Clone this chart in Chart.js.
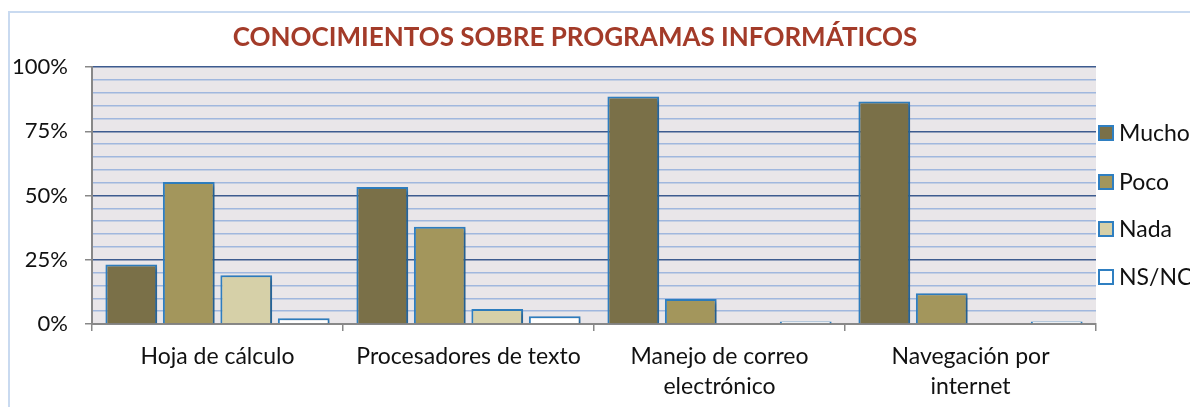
<!DOCTYPE html>
<html>
<head>
<meta charset="utf-8">
<script src="https://cdn.jsdelivr.net/npm/chart.js@4"></script>
<style>
html,body{margin:0;padding:0;background:#fff;}
#wrap{position:relative;width:1190px;height:407px;}
</style>
</head>
<body>
<div id="wrap"><canvas id="c" width="1190" height="407"></canvas></div>
<script>
const title = 'CONOCIMIENTOS SOBRE PROGRAMAS INFORMÁTICOS';
const categories = ['Hoja de cálculo', 'Procesadores de texto', ['Manejo de correo', 'electrónico'], ['Navegación por', 'internet']];
const seriesNames = ['Mucho', 'Poco', 'Nada', 'NS/NC'];
const mucho = [23.2, 53.3, 88.5, 86.6];
const poco = [55.3, 37.8, 9.7, 12.0];
const nada = [19.0, 5.8, 0.3, 0.3];
const nsnc = [2.2, 3.0, 1.0, 1.0];
const yTicks = [0, 25, 50, 75, 100];

const fills = ['#7a7048', '#a3965c', '#d6d0a8', '#ffffff'];
const border = '#2f7fc1';
const FONT = 'Lato';

const bgPlugin = {
  id: 'bg',
  beforeDraw(chart) {
    const ctx = chart.ctx, a = chart.chartArea;
    ctx.save();
    ctx.fillStyle = '#ffffff';
    ctx.fillRect(0, 0, chart.width, chart.height);
    ctx.strokeStyle = '#c9daf0';
    ctx.lineWidth = 2;
    ctx.beginPath();
    ctx.moveTo(9, chart.height);
    ctx.lineTo(9, 12);
    ctx.lineTo(chart.width, 12);
    ctx.stroke();
    ctx.fillStyle = '#e9e6e9';
    ctx.fillRect(a.left, a.top, a.right - a.left, a.bottom - a.top);
    ctx.restore();
  },
  beforeDatasetsDraw(chart) {
    const ctx = chart.ctx;
    ctx.save();
    ctx.shadowColor = 'rgba(0,0,0,0.28)';
    ctx.shadowBlur = 4;
    ctx.shadowOffsetX = 3;
    ctx.shadowOffsetY = 2;
  },
  afterDatasetsDraw(chart) {
    chart.ctx.restore();
  },
  afterDraw(chart) {
    const ctx = chart.ctx;
    ctx.save();
    ctx.font = 'bold 26px ' + FONT;
    ctx.fillStyle = '#a33b29';
    ctx.textAlign = 'center';
    ctx.textBaseline = 'middle';
    ctx.fillText(title, 575, 38);
    ctx.font = '23px ' + FONT;
    ctx.textAlign = 'left';
    const ys = [133, 182, 229, 277];
    seriesNames.forEach((n, i) => {
      ctx.fillStyle = fills[i];
      ctx.fillRect(1099, ys[i] - 7, 14, 14);
      ctx.strokeStyle = border;
      ctx.lineWidth = 2;
      ctx.strokeRect(1099, ys[i] - 7, 14, 14);
      ctx.fillStyle = '#111';
      ctx.fillText(n, 1119, ys[i] + 1);
    });
    ctx.restore();
  }
};

const ds = (label, data, i) => ({
  label, data,
  backgroundColor: fills[i],
  borderColor: border,
  borderWidth: 2,
  categoryPercentage: 0.916,
  barPercentage: 0.9
});

new Chart(document.getElementById('c'), {
  type: 'bar',
  data: {
    labels: categories,
    datasets: [ds(seriesNames[0], mucho, 0), ds(seriesNames[1], poco, 1), ds(seriesNames[2], nada, 2), ds(seriesNames[3], nsnc, 3)]
  },
  options: {
    responsive: false,
    animation: false,
    devicePixelRatio: 1,
    layout: { padding: { top: 67, right: 94, bottom: 0, left: 0 } },
    plugins: { legend: { display: false }, title: { display: false }, tooltip: { enabled: false } },
    scales: {
      x: {
        offset: true,
        afterFit(s) { s.height = 83; },
        grid: { offset: true, drawOnChartArea: false, drawTicks: true, tickLength: 7, color: '#888888', lineWidth: 1.5 },
        border: { display: true, color: '#888888', width: 2 },
        ticks: { color: '#111', font: { family: FONT, size: 23, lineHeight: 1.3 }, padding: 11, maxRotation: 0, autoSkip: false }
      },
      y: {
        min: 0, max: 100,
        afterFit(s) { s.width = 92; },
        afterBuildTicks(s) {
          s.ticks = [];
          for (let v = 0; v <= 100; v += 5) s.ticks.push({ value: v });
        },
        grid: {
          color: c => (c.tick && c.tick.value % 25 === 0) ? '#3d5b8f' : '#a0b7de',
          lineWidth: 1.5,
          tickColor: c => (c.tick && yTicks.includes(c.tick.value)) ? '#888888' : 'rgba(0,0,0,0)',
          tickLength: 7
        },
        border: { display: true, color: '#888888', width: 2 },
        ticks: {
          autoSkip: false,
          padding: 17,
          color: '#111',
          font: { family: FONT, size: 22 },
          callback: v => yTicks.includes(v) ? v + '%' : ''
        }
      }
    }
  },
  plugins: [bgPlugin]
});
</script>
</body>
</html>
